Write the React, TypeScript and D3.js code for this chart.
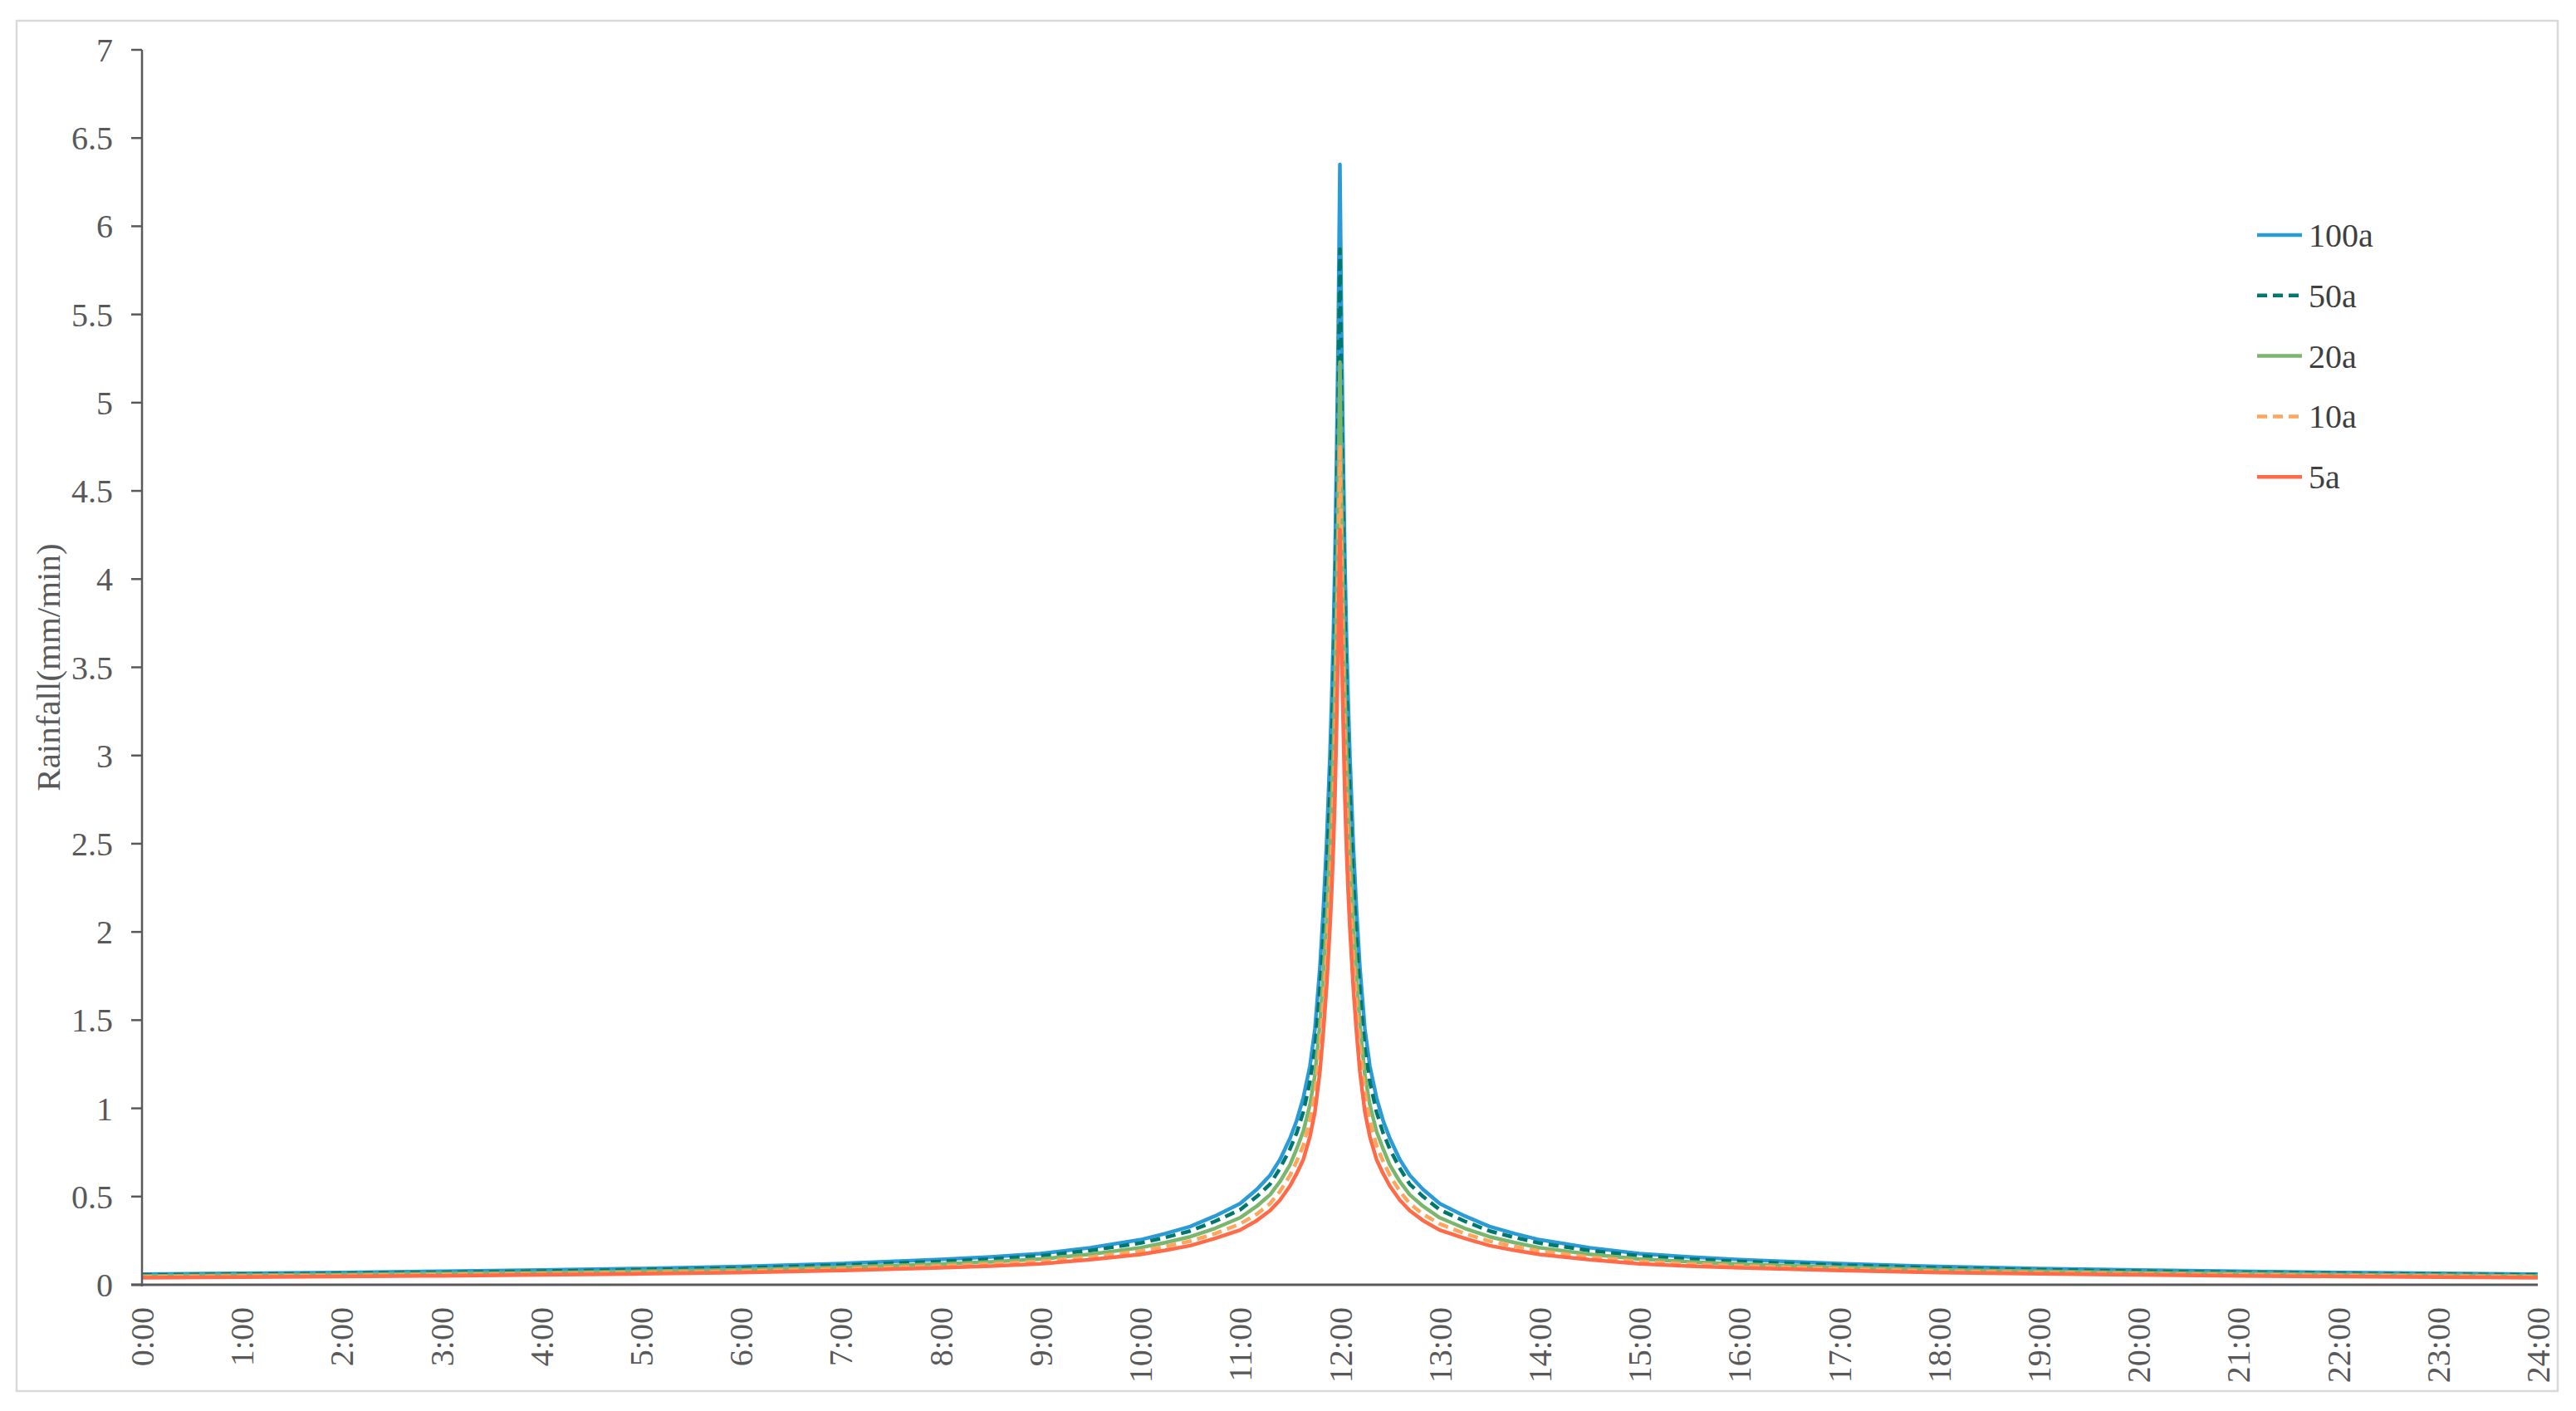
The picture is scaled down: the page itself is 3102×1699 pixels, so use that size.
import React from 'react';
import * as d3 from 'd3';

// time of each sample, minutes from 0:00
const minutes = [
  0, 60, 120, 180, 240, 300, 360, 420, 480, 510, 540, 570, 600, 615, 630, 645, 660, 670, 678, 684, 690,
  694, 698, 702, 705, 708, 710, 712, 714, 715, 716, 717, 718, 719, 720,
  721, 722, 723, 724, 725, 726, 728, 730, 732, 735, 738, 742, 746, 750, 756, 762, 770, 780, 795, 810,
  825, 840, 870, 900, 930, 960, 1020, 1080, 1140, 1200, 1260, 1320, 1380, 1440,
];

const rain100 = [
  0.06, 0.065, 0.07, 0.076, 0.083, 0.092, 0.103, 0.12, 0.143, 0.158, 0.177, 0.21, 0.255, 0.29, 0.33, 0.39, 0.46, 0.54, 0.62, 0.71, 0.83,
  0.93, 1.06, 1.24, 1.45, 1.8, 2.12, 2.5, 3.0, 3.3, 3.65, 4.1, 4.7, 5.4, 6.35,
  5.4, 4.7, 4.1, 3.65, 3.3, 3.0, 2.5, 2.12, 1.8, 1.45, 1.24, 1.06, 0.93, 0.83, 0.71, 0.62, 0.54, 0.46, 0.39, 0.33,
  0.29, 0.255, 0.21, 0.177, 0.158, 0.143, 0.12, 0.103, 0.092, 0.083, 0.076, 0.07, 0.065, 0.06,
];
const rain50 = [
  0.056, 0.06, 0.065, 0.07, 0.077, 0.085, 0.095, 0.111, 0.132, 0.146, 0.164, 0.194, 0.236, 0.268, 0.305, 0.36, 0.425, 0.5, 0.57, 0.66, 0.77,
  0.86, 0.98, 1.15, 1.34, 1.67, 1.96, 2.31, 2.78, 3.05, 3.38, 3.79, 4.35, 5.0, 5.87,
  5.0, 4.35, 3.79, 3.38, 3.05, 2.78, 2.31, 1.96, 1.67, 1.34, 1.15, 0.98, 0.86, 0.77, 0.66, 0.57, 0.5, 0.425, 0.36, 0.305,
  0.268, 0.236, 0.194, 0.164, 0.146, 0.132, 0.111, 0.095, 0.085, 0.077, 0.07, 0.065, 0.06, 0.056,
];
const rain20 = [
  0.049, 0.054, 0.058, 0.063, 0.068, 0.076, 0.085, 0.099, 0.118, 0.13, 0.146, 0.173, 0.21, 0.239, 0.272, 0.32, 0.38, 0.445, 0.51, 0.585, 0.68,
  0.77, 0.87, 1.02, 1.19, 1.48, 1.75, 2.06, 2.47, 2.72, 3.01, 3.38, 3.87, 4.45, 5.23,
  4.45, 3.87, 3.38, 3.01, 2.72, 2.47, 2.06, 1.75, 1.48, 1.19, 1.02, 0.87, 0.77, 0.68, 0.585, 0.51, 0.445, 0.38, 0.32, 0.272,
  0.239, 0.21, 0.173, 0.146, 0.13, 0.118, 0.099, 0.085, 0.076, 0.068, 0.063, 0.058, 0.054, 0.049,
];
const rain10 = [
  0.045, 0.049, 0.052, 0.057, 0.062, 0.069, 0.077, 0.09, 0.107, 0.118, 0.133, 0.157, 0.191, 0.217, 0.247, 0.29, 0.345, 0.4, 0.46, 0.53, 0.62,
  0.7, 0.79, 0.93, 1.09, 1.35, 1.59, 1.87, 2.25, 2.47, 2.73, 3.07, 3.52, 4.04, 4.76,
  4.04, 3.52, 3.07, 2.73, 2.47, 2.25, 1.87, 1.59, 1.35, 1.09, 0.93, 0.79, 0.7, 0.62, 0.53, 0.46, 0.4, 0.345, 0.29, 0.247,
  0.217, 0.191, 0.157, 0.133, 0.118, 0.107, 0.09, 0.077, 0.069, 0.062, 0.057, 0.052, 0.049, 0.045,
];
const rain5 = [
  0.04, 0.044, 0.047, 0.051, 0.056, 0.062, 0.069, 0.081, 0.096, 0.106, 0.119, 0.142, 0.172, 0.195, 0.222, 0.263, 0.31, 0.364, 0.42, 0.48, 0.56,
  0.63, 0.71, 0.84, 0.98, 1.21, 1.43, 1.69, 2.02, 2.22, 2.46, 2.76, 3.17, 3.64, 4.28,
  3.64, 3.17, 2.76, 2.46, 2.22, 2.02, 1.69, 1.43, 1.21, 0.98, 0.84, 0.71, 0.63, 0.56, 0.48, 0.42, 0.364, 0.31, 0.263, 0.222,
  0.195, 0.172, 0.142, 0.119, 0.106, 0.096, 0.081, 0.069, 0.062, 0.056, 0.051, 0.047, 0.044, 0.04,
];

const seriesNames = ['100a', '50a', '20a', '10a', '5a'];
const seriesValues = [rain100, rain50, rain20, rain10, rain5];
const seriesColors = ['#2b9bd8', '#00786e', '#7bb66e', '#ffa55e', '#ff6b48'];
const seriesDash = [null, '12,7', null, '12,7', null];

const yTicks = [0, 0.5, 1, 1.5, 2, 2.5, 3, 3.5, 4, 4.5, 5, 5.5, 6, 6.5, 7];
const xTickLabels = [
  '0:00', '1:00', '2:00', '3:00', '4:00', '5:00', '6:00', '7:00', '8:00', '9:00', '10:00', '11:00', '12:00',
  '13:00', '14:00', '15:00', '16:00', '17:00', '18:00', '19:00', '20:00', '21:00', '22:00', '23:00', '24:00',
];

const W = 3102;
const H = 1699;
const FONT = '"Liberation Serif", "Times New Roman", serif';
const TEXT = '#595959';

const App: React.FC = () => {
  const x = d3.scaleLinear().domain([0, 1440]).range([171, 3056]);
  const y = d3.scaleLinear().domain([0, 7]).range([1547, 60]);

  const line = d3
    .line<number>()
    .x((_, i) => x(minutes[i]))
    .y((d) => y(d));

  const legendX = 2718;
  const legendY0 = 283;
  const legendStep = 72.8;

  return (
    <svg width={W} height={H} style={{ position: 'absolute', left: 0, top: 0, background: '#fff' }}>
      <rect x={20} y={25} width={3060} height={1650} fill="#fff" stroke="#d9d9d9" strokeWidth={2.5} />

      {/* series */}
      {seriesValues.map((vals, i) => (
        <path
          key={seriesNames[i]}
          d={line(vals) || ''}
          fill="none"
          stroke={seriesColors[i]}
          strokeWidth={4.5}
          strokeDasharray={seriesDash[i] || undefined}
          strokeLinejoin="round"
        />
      ))}

      {/* y axis */}
      <line x1={171} x2={171} y1={y(7)} y2={y(0) + 2} stroke={TEXT} strokeWidth={2.5} />
      {yTicks.map((t) => (
        <g key={t}>
          <line x1={158} x2={171} y1={y(t)} y2={y(t)} stroke={TEXT} strokeWidth={2.5} />
          <text
            x={136}
            y={y(t)}
            dy="0.35em"
            textAnchor="end"
            fontFamily={FONT}
            fontSize={40}
            fill={TEXT}
          >
            {String(t)}
          </text>
        </g>
      ))}
      <text
        transform={`translate(72,${(y(0) + y(7)) / 2}) rotate(-90)`}
        textAnchor="middle"
        fontFamily={FONT}
        fontSize={41}
        fill={TEXT}
      >
        Rainfall(mm/min)
      </text>

      {/* x axis */}
      <line x1={158} x2={x(1440)} y1={y(0)} y2={y(0)} stroke={TEXT} strokeWidth={3} />
      {xTickLabels.map((lab, i) => (
        <text
          key={lab}
          transform={`translate(${x(i * 60)},1574) rotate(-90)`}
          textAnchor="end"
          dy="0.35em"
          fontFamily={FONT}
          fontSize={40}
          fill={TEXT}
        >
          {lab}
        </text>
      ))}

      {/* legend */}
      {seriesNames.map((name, i) => (
        <g key={name} transform={`translate(${legendX},${legendY0 + i * legendStep})`}>
          <line
            x1={0}
            x2={seriesDash[i] ? 50 : 54}
            y1={0}
            y2={0}
            stroke={seriesColors[i]}
            strokeWidth={4.5}
            strokeDasharray={seriesDash[i] || undefined}
          />
          <text x={62} y={0} dy="0.35em" fontFamily={FONT} fontSize={40} fill="#404040">
            {name}
          </text>
        </g>
      ))}
    </svg>
  );
};

export default App;
